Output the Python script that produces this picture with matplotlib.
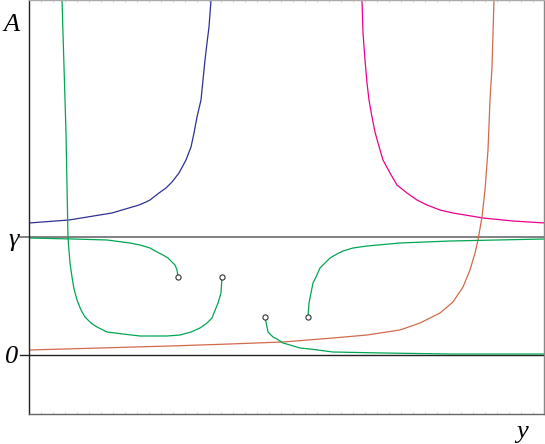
import matplotlib.pyplot as plt
from matplotlib.ticker import MultipleLocator

# x: the "y" variable, A on the vertical axis; gamma level and zero
gamma = 1.18

blue_x = [0.00, 0.40, 0.83, 1.10, 1.17, 1.21, 1.30, 1.37, 1.43, 1.50, 1.57, 1.62, 1.65,
          1.68, 1.72, 1.74, 1.76, 1.78, 1.80, 1.82, 1.83]
blue_y = [1.32, 1.35, 1.42, 1.50, 1.53, 1.55, 1.62, 1.67, 1.73, 1.82, 1.95, 2.08, 2.22,
          2.38, 2.55, 2.75, 2.95, 3.12, 3.28, 3.55, 3.75]

magenta_x = [3.33, 3.33, 3.34, 3.36, 3.38, 3.40, 3.43, 3.46, 3.49, 3.54, 3.61, 3.68,
             3.78, 3.88, 3.98, 4.11, 4.24, 4.54, 4.84, 5.16]
magenta_y = [3.75, 3.55, 3.22, 2.95, 2.72, 2.55, 2.38, 2.23, 2.12, 1.95, 1.82, 1.70,
             1.62, 1.55, 1.50, 1.45, 1.42, 1.37, 1.34, 1.32]

orange_x = [0.00, 0.71, 1.41, 2.01, 2.54, 3.04, 3.38, 3.71, 3.91, 4.11, 4.24, 4.34,
            4.41, 4.46, 4.49, 4.53, 4.56, 4.59, 4.61, 4.63, 4.65, 4.66]
orange_y = [0.05, 0.07, 0.09, 0.11, 0.13, 0.17, 0.20, 0.25, 0.32, 0.42, 0.53, 0.68,
            0.85, 1.02, 1.15, 1.38, 1.65, 2.05, 2.55, 2.88, 3.55, 3.75]

green1_x = [0.33, 0.33, 0.37, 0.39, 0.41, 0.43, 0.45, 0.48, 0.52, 0.56, 0.62, 0.68,
            0.78, 0.94, 1.11, 1.38, 1.51, 1.62, 1.71, 1.78, 1.83, 1.89, 1.92, 1.93]
green1_y = [3.75, 3.55, 2.22, 1.17, 0.92, 0.78, 0.66, 0.55, 0.45, 0.38, 0.32, 0.28,
            0.23, 0.21, 0.19, 0.19, 0.20, 0.23, 0.27, 0.32, 0.37, 0.52, 0.62, 0.78]

green2_x = [0.00, 0.44, 0.78, 1.01, 1.11, 1.21, 1.28, 1.34, 1.39, 1.43, 1.46, 1.48, 1.49]
green2_y = [1.17, 1.16, 1.15, 1.12, 1.10, 1.07, 1.03, 1.00, 0.97, 0.93, 0.90, 0.85, 0.78]

green3_x = [2.36, 2.38, 2.39, 2.44, 2.48, 2.54, 2.61, 2.71, 2.81, 3.04, 3.54, 4.21, 5.15]
green3_y = [0.38, 0.28, 0.23, 0.18, 0.16, 0.12, 0.10, 0.07, 0.06, 0.03, 0.02, 0.01, 0.01]

green4_x = [2.79, 2.80, 2.82, 2.84, 2.87, 2.91, 2.96, 3.01, 3.08, 3.14, 3.24, 3.38,
            3.71, 4.21, 5.15]
green4_y = [0.38, 0.52, 0.62, 0.72, 0.78, 0.87, 0.92, 0.97, 1.01, 1.04, 1.07, 1.09,
            1.12, 1.14, 1.16]

start_x = [1.49, 1.93, 2.36, 2.79]
start_y = [0.78, 0.78, 0.38, 0.38]

fig = plt.figure(figsize=(5.45, 4.44), dpi=100)
ax = fig.add_axes([29 / 545, 30 / 444, 515 / 545, 414 / 444])
ax.set_xlim(0, 5.15)
ax.set_ylim(-0.59, 3.55)

lw = 0.9
ax.plot(blue_x, blue_y, color="#2e3192", lw=lw)
ax.plot(magenta_x, magenta_y, color="#ec008c", lw=lw)
ax.plot(orange_x, orange_y, color="#d26a4c", lw=lw)
for gx, gy in [(green1_x, green1_y), (green2_x, green2_y),
               (green3_x, green3_y), (green4_x, green4_y)]:
    ax.plot(gx, gy, color="#00a651", lw=lw)

# reference levels, drawn a little past the left spine
ax.plot([-0.09, 5.15], [gamma, gamma], color="#777777", lw=1.3, clip_on=False, zorder=1)
ax.plot([-0.09, 5.15], [0, 0], color="#222222", lw=1.0, clip_on=False, zorder=1)

ax.scatter(start_x, start_y, s=14, facecolor="white", edgecolor="#333333",
           linewidth=0.8, zorder=5)

ax.spines["left"].set_color("#222222")
ax.spines["bottom"].set_color("#666666")
ax.spines["right"].set_color("#888888")
ax.spines["top"].set_color("#aaaaaa")
for s in ax.spines.values():
    s.set_linewidth(1.0)

ax.set_xticks([])
ax.set_yticks([])
ax.xaxis.set_minor_locator(MultipleLocator(0.12))
ax.tick_params(axis="x", which="minor", direction="in", length=1.5, color="#cccccc",
               top=True, bottom=True)

font = dict(family=["Liberation Serif", "DejaVu Serif"], style="italic", size=19)
ax.text(-0.17, 3.30, "A", ha="center", va="center", **font)
ax.text(-0.15, gamma - 0.03, "γ", ha="center", va="center", **font)
ax.text(-0.17, -0.02, "0", ha="center", va="center", **font)
ax.text(4.93, -0.77, "y", ha="center", va="center", **font)

fig.savefig("out.png", dpi=100)
